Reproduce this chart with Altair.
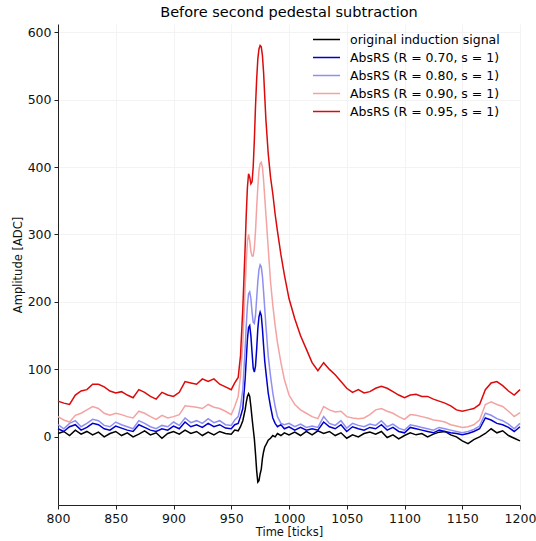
import altair as alt
import pandas as pd

T = (list(range(800, 950, 5)) +
     [950, 953, 956, 958, 960, 962, 963, 964, 965, 966, 967, 968, 969, 970, 971, 972,
      973, 974, 975, 976, 977, 978, 979, 980, 982, 984, 986, 988, 990, 993, 996] +
     list(range(1000, 1201, 5)))

orig = [5, 8, 2, 10, 4, 8, 3, 7, 0, 5, 8, 2, 6, 0, 4, 9, 3, 6, -2, 5, 8, 4, 10, 5, 8, 2, 7, 3, 8, 5,
        4, 10, 9, 15, 24, 40, 51, 60, 64, 60, 45, 28, 12, -3, -25, -50, -67, -65, -55, -48, -32, -22, -15, -12, -5, -2, 2, 0, 5, 2, 6,
        3, 7, 2, 8, 3, 9, 5, 8, 2, 6, -2, 3, 0, 5, 7, 4, 8, -1, 3, -3, 2, 6, 3, 5, 0, 4, 7, 8, 3, 0, -6, -10, -4, 0, 5, 12, 6, 9, 2, -2, -6]

r70 = [12, 8, 15, 18, 10, 14, 20, 18, 12, 10, 16, 13, 10, 8, 18, 14, 10, 8, 12, 10, 16, 12, 22, 15, 18, 14, 20, 15, 18, 13,
       12, 18, 20, 30, 42, 85, 115, 145, 162, 165, 150, 125, 102, 96, 105, 130, 160, 178, 185, 180, 160, 135, 112, 96, 65, 45, 28, 20, 15, 18, 12,
       15, 10, 14, 10, 12, 10, 22, 15, 12, 18, 8, 15, 12, 10, 14, 12, 18, 10, 14, 8, 6, 14, 12, 10, 8, 6, 10, 8, 6, 5, 3, 5, 8, 12, 28, 25, 20, 18, 14, 8, 15]

r80 = [18, 12, 20, 24, 15, 20, 26, 24, 17, 15, 22, 18, 15, 12, 24, 20, 15, 12, 17, 15, 22, 17, 28, 21, 24, 20, 27, 21, 24, 18,
       17, 25, 30, 45, 70, 130, 165, 195, 212, 215, 205, 185, 170, 168, 180, 205, 230, 248, 255, 252, 238, 215, 190, 165, 120, 90, 65, 45, 30, 20, 18,
       20, 15, 19, 14, 16, 14, 30, 20, 17, 24, 13, 20, 17, 15, 19, 17, 24, 15, 19, 13, 10, 18, 16, 14, 12, 10, 14, 12, 10, 8, 6, 8, 11, 16, 35, 32, 27, 24, 19, 12, 20]

r90 = [30, 25, 22, 32, 35, 40, 45, 42, 35, 32, 35, 33, 30, 28, 38, 35, 30, 26, 32, 28, 30, 33, 46, 45, 44, 42, 48, 44, 42, 38,
       33, 45, 60, 90, 140, 220, 260, 290, 300, 290, 275, 268, 268, 280, 305, 340, 370, 395, 405, 407, 400, 380, 355, 330, 280, 230, 195, 165, 140, 110, 85,
       62, 48, 40, 35, 30, 27, 45, 40, 37, 38, 30, 28, 27, 28, 33, 40, 42, 38, 35, 30, 26, 33, 32, 30, 28, 25, 24, 22, 18, 16, 14, 15, 18, 25, 48, 52, 48, 45, 38, 30, 36]

r95 = [53, 50, 48, 62, 68, 70, 78, 78, 74, 68, 65, 67, 62, 58, 70, 66, 60, 56, 66, 62, 60, 66, 82, 80, 78, 86, 82, 86, 78, 74,
       70, 80, 88, 120, 190, 280, 330, 370, 390, 385, 375, 378, 400, 440, 490, 530, 560, 575, 580, 578, 565, 540, 505, 470, 420, 385, 360, 330, 305, 270, 240,
       205, 175, 150, 130, 110, 98, 110, 100, 92, 82, 72, 66, 70, 65, 67, 72, 75, 72, 67, 62, 58, 62, 63, 60, 60, 56, 53, 50, 46, 40, 38, 40, 42, 48, 70, 80, 82, 76, 68, 62, 70]

names = ["original induction signal", "AbsRS (R = 0.70, s = 1)", "AbsRS (R = 0.80, s = 1)",
         "AbsRS (R = 0.90, s = 1)", "AbsRS (R = 0.95, s = 1)"]
colors = ["#000000", "#0000cc", "#8f8ff2", "#f4a3a3", "#dc0a0a"]
series = [orig, r70, r80, r90, r95]

rows = []
for k, (n, s) in enumerate(zip(names, series)):
    for t, v in zip(T, s):
        rows.append({"t": t, "v": v, "series": n, "order": k})
df = pd.DataFrame(rows)

font = "DejaVu Sans"

chart = alt.Chart(df).mark_line(strokeWidth=1.5).encode(
    x=alt.X("t:Q", title="Time [ticks]",
            scale=alt.Scale(domain=[800, 1200], nice=False, zero=False),
            axis=alt.Axis(values=list(range(800, 1201, 50)), format="d", labelFontSize=12.5,
                          titleFontSize=11.5, titleFontWeight="normal", tickSize=4,
                          labelPadding=3, titlePadding=2, labelFlush=False)),
    y=alt.Y("v:Q", title="Amplitude [ADC]",
            scale=alt.Scale(domain=[-101, 612], nice=False, zero=False),
            axis=alt.Axis(values=list(range(0, 601, 100)), format="d", labelFontSize=12.5,
                          titleFontSize=11.5, titleFontWeight="normal", tickSize=4,
                          labelPadding=3, titlePadding=4)),
    color=alt.Color("series:N", scale=alt.Scale(domain=names, range=colors),
                    legend=alt.Legend(title=None, orient="none", legendX=261, legendY=8,
                                      symbolType="M-2,0L2,0", symbolSize=182, symbolStrokeWidth=1.5,
                                      labelFontSize=12.5, labelFont=font, rowPadding=4,
                                      labelOffset=16, padding=0)),
    order=alt.Order("order:Q"),
    detail="series:N",
).properties(
    width=462, height=481,
    title=alt.TitleParams("Before second pedestal subtraction", fontSize=14.5,
                          fontWeight="normal", font=font, offset=4),
    autosize=alt.AutoSizeParams(type="none"),
    padding={"left": 58, "top": 24, "right": 16, "bottom": 36},
).configure_view(stroke=None).configure_axis(
    labelFont=font, titleFont=font, gridColor="#f0f0f0", gridWidth=0.8,
    domainColor="#222222", tickColor="#222222", labelColor="#111111", titleColor="#111111"
).configure_axisY(domain=True).configure_axisX(domain=True)

chart.save("out.html", embed_options={"renderer": "svg", "actions": False})
